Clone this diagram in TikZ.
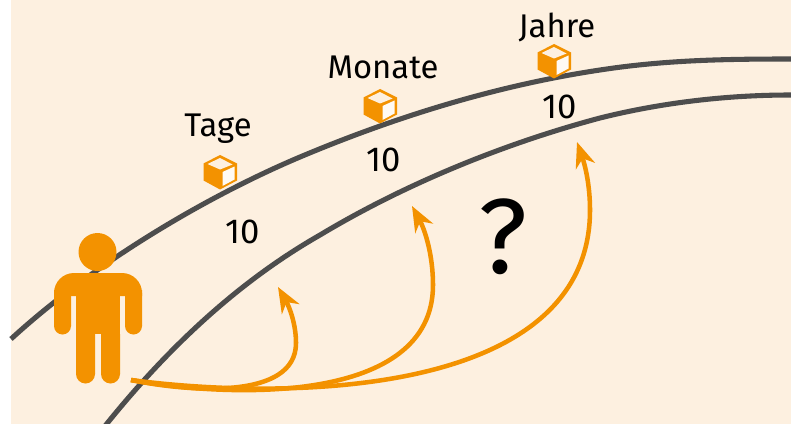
\documentclass[tikz,border=0pt]{standalone}
\usepackage{fontspec}
\setmainfont{Fira Sans}
\usepackage{tikz}
\usetikzlibrary{arrows.meta}
\definecolor{fondo}{RGB}{253,240,224}
\definecolor{naranja}{RGB}{243,146,0}
\definecolor{gris}{RGB}{77,77,77}
\definecolor{cara}{RGB}{255,250,243}

\begin{document}
\begin{tikzpicture}[
  x=0.75pt, y=-0.75pt,
  bahn/.style={line width=3.8pt, draw=gris},
  pfeil/.style={line width=3.4pt, draw=naranja,
    -{Stealth[length=19pt, width=15pt, inset=6pt]}},
  etikett/.style={font=\fontsize{24.6}{25}\selectfont, text=black, inner sep=0pt},
  zahl/.style={font=\fontsize{26}{26}\selectfont, text=black, inner sep=0pt},
  wuerfel/.pic={
    \fill[naranja] (0,-17) -- (17,-8.5) -- (17,8.5) -- (0,17.5) -- (-16.5,8.5) -- (-16.5,-8.5) -- cycle;
    \fill[fondo] (0,-14) -- (12.5,-7.5) -- (0,-2.5) -- (-12.5,-8) -- cycle;
    \fill[cara] (2.5,0) -- (14.5,-5.5) -- (14.5,7.5) -- (2.5,14) -- cycle;
  },
]
  \useasboundingbox (0,0) rectangle (791,424);
  \fill[fondo] (11,0) rectangle (791,424);
  % ---- Bahnen ----
  \draw[bahn] (11,339) .. controls (96,261) and (210,195) .. (300,157)
    .. controls (400,115) and (500,85) .. (600,70)
    .. controls (665,60) and (725,59) .. (791,59);
  \draw[bahn] (105,426) .. controls (178,335) and (250,275) .. (320,235)
    .. controls (410,181) and (510,142) .. (600,118)
    .. controls (660,103) and (725,95) .. (791,95);
  % ---- Person ----
  \fill[naranja] (97.5,252) circle (19);
  \fill[naranja] (54,296) [rounded corners=15] -- (54,273) -- (142,273) [sharp corners] -- (142,296) -- cycle;
  \fill[naranja] (54,290) rectangle (71,326) (125,290) rectangle (142,326);
  \fill[naranja] (62.5,326) circle (8.5) (133.5,326) circle (8.5);
  \fill[naranja] (76,290) rectangle (120,334);
  \fill[naranja] (76,334) rectangle (95,374) (101,334) rectangle (120,374);
  \fill[naranja] (85.5,374) circle (9.5) (110.5,374) circle (9.5);
  % ---- Wuerfel ----
  \pic at (220,172) {wuerfel};
  \pic at (380,106) {wuerfel};
  \pic at (554,61) {wuerfel};
  % ---- Texte ----
  \node[etikett] (tage) at (218,129) {Tage};
  \node[etikett] (monate) at (383,67) {Monate};
  \node[etikett] (jahre) at (557,27) {Jahre};
  \node[zahl] (zehnA) at (243,232) {10};
  \node[zahl] (zehnB) at (384,160) {10};
  \node[zahl] (zehnC) at (560,107) {10};
  \node[etikett, font=\fontsize{80}{80}\selectfont] (frage) at (503,237) {?};
  % ---- Pfeile ----
  \coordinate (start) at (131,380);
  \coordinate (tagziel) at (278,287);
  \coordinate (monatziel) at (412,206);
  \coordinate (jahrziel) at (577,142);
  \draw[pfeil] (start) .. controls (190,392) and (296,400) .. (296,343)
    .. controls (296,325) and (290,308) .. (tagziel);
  \draw[pfeil] (start) .. controls (230,398) and (433,405) .. (433,285)
    .. controls (433,255) and (425,230) .. (monatziel);
  \draw[pfeil] (start) .. controls (280,400) and (590,400) .. (590,210)
    .. controls (590,185) and (585,165) .. (jahrziel);
\end{tikzpicture}
\end{document}
